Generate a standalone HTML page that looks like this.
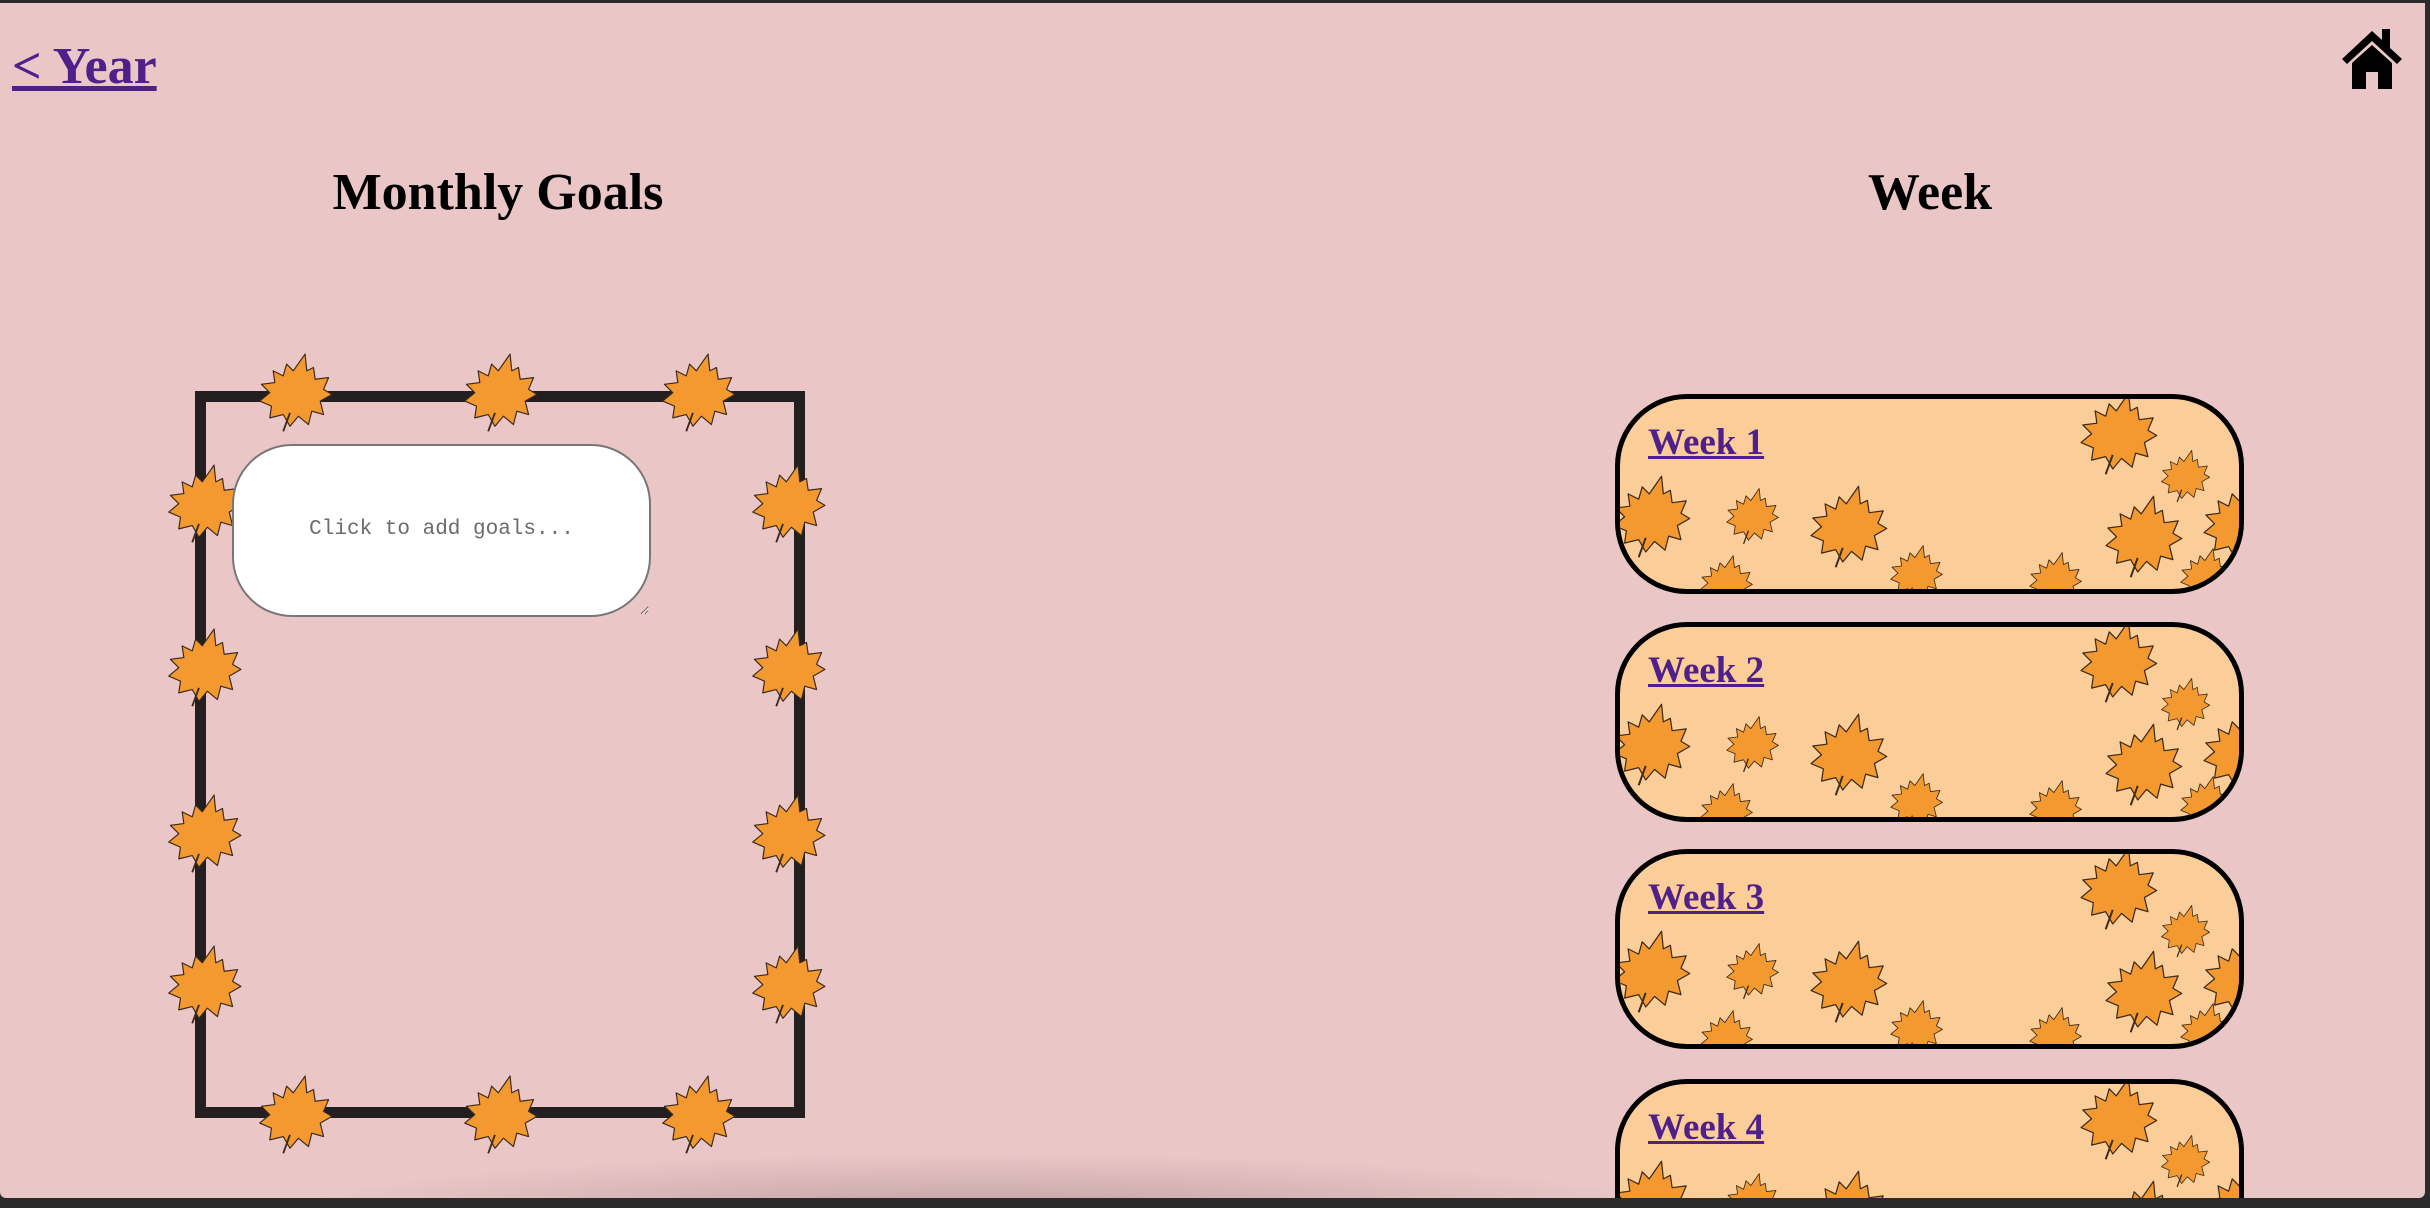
<!DOCTYPE html>
<html><head><meta charset="utf-8">
<style>
html,body{margin:0;padding:0;}
body{width:2430px;height:1208px;overflow:hidden;background:#2b2b2b;position:relative;font-family:"Liberation Serif",serif;}
#page{position:absolute;left:0;top:3px;width:2425px;height:1195px;background:#eac6c7;overflow:hidden;border-radius:0 0 6px 6px;}
.abs{position:absolute;}
a.lnk{color:#4f1f8a;text-decoration:underline;font-weight:bold;}
h2{position:absolute;margin:0;font-size:52px;font-weight:bold;color:#000;text-align:center;}
.frame{position:absolute;left:195px;top:388px;width:588px;height:705px;border:11px solid #231f20;box-sizing:content-box;}
.leaf{position:absolute;}
textarea{position:absolute;left:232px;top:441px;width:419px;height:173px;border:2px solid #777;border-radius:60px;background:#fff;font-family:"Liberation Mono",monospace;font-size:21px;color:#666;text-align:center;padding:0;box-sizing:border-box;resize:both;outline:none;padding-top:72px;}
textarea::placeholder{color:#6b6b6b;}
.card{position:absolute;left:1615px;width:629px;height:200px;border:5px solid #000;border-radius:72px;background:#fbcd98;box-sizing:border-box;overflow:hidden;}
.card a{position:absolute;left:28px;top:22px;font-size:37px;}
.shadow{position:absolute;left:280px;top:1150px;width:1400px;height:60px;background:radial-gradient(ellipse at center bottom,rgba(120,90,90,0.35),rgba(0,0,0,0) 70%);}
</style></head>
<body>
<svg width="0" height="0" style="position:absolute">
<defs>
<symbol id="lf" viewBox="0 0 100 100">
<path d="M62 6 L64 26 L72 22 L74 36 L90 34 L84 48 L94 54 L80 62 L84 78 L70 74 L66 90 L54 80 L44 92 L36 78 L20 82 L22 68 L8 62 L20 52 L10 42 L26 40 L24 26 L36 32 L40 18 L48 26 Z" fill="#f4992f" stroke="#3a2a1a" stroke-width="1.4" stroke-linejoin="round"/>
<path d="M44 76 L36 98" stroke="#3a2a1a" stroke-width="2.2" fill="none"/>
</symbol>
</defs>
</svg>
<div id="page">
  <a class="lnk abs" href="#" style="left:12px;top:34px;font-size:52px;">&lt; Year</a>
  <svg class="abs" style="left:2340px;top:22px" width="64" height="64" viewBox="0 0 64 64">
    <path d="M32 6 L2 34 L7 39 L32 16 L57 39 L62 34 L50 23 L50 4 L42 4 L42 15 Z" fill="#000"/>
    <path d="M12 38 L32 20 L52 38 L52 64 L38 64 L38 47 L26 47 L26 64 L12 64 Z" fill="#000"/>
  </svg>
  <h2 style="left:248px;top:160px;width:500px">Monthly Goals</h2>
  <h2 style="left:1680px;top:160px;width:500px">Week</h2>

  <div class="frame"></div>
  <div id="frameLeaves"></div>
  <textarea placeholder="Click to add goals..."></textarea>

  <div class="card" style="top:391px"><div class="pat"></div><a class="lnk" href="#">Week 1</a></div>
  <div class="card" style="top:619px"><div class="pat"></div><a class="lnk" href="#">Week 2</a></div>
  <div class="card" style="top:846px"><div class="pat"></div><a class="lnk" href="#">Week 3</a></div>
  <div class="card" style="top:1076px"><div class="pat"></div><a class="lnk" href="#">Week 4</a></div>
  <div class="shadow"></div>
</div>
<script>
function leafSvg(cx,cy,s){
  return '<svg class="leaf" style="left:'+(cx-s/2)+'px;top:'+(cy-s/2)+'px" width="'+s+'" height="'+s+'" viewBox="0 0 100 100"><use href="#lf"/></svg>';
}
var fl=[];
[295,500,698].forEach(function(x){fl.push([x,388]);fl.push([x,1110]);});
[499,663,829,980].forEach(function(y){fl.push([204,y]);fl.push([788,y]);});
var h='';fl.forEach(function(p){h+=leafSvg(p[0],p[1],84);});
var fdiv=document.getElementById('frameLeaves');
fdiv.innerHTML=h;


var cl=[[503,38,88],[570,81,56],[36,121,88],[137,121,60],[233,131,88],[301,178,60],[440,185,60],[528,141,88],[591,181,60],[111,188,60],[626,128,88]];
var ch='';cl.forEach(function(p){ch+=leafSvg(p[0]-5,p[1]-5,p[2]);});
document.querySelectorAll('.pat').forEach(function(d){
  d.innerHTML=ch;
  
  
});
</script>
</body></html>
